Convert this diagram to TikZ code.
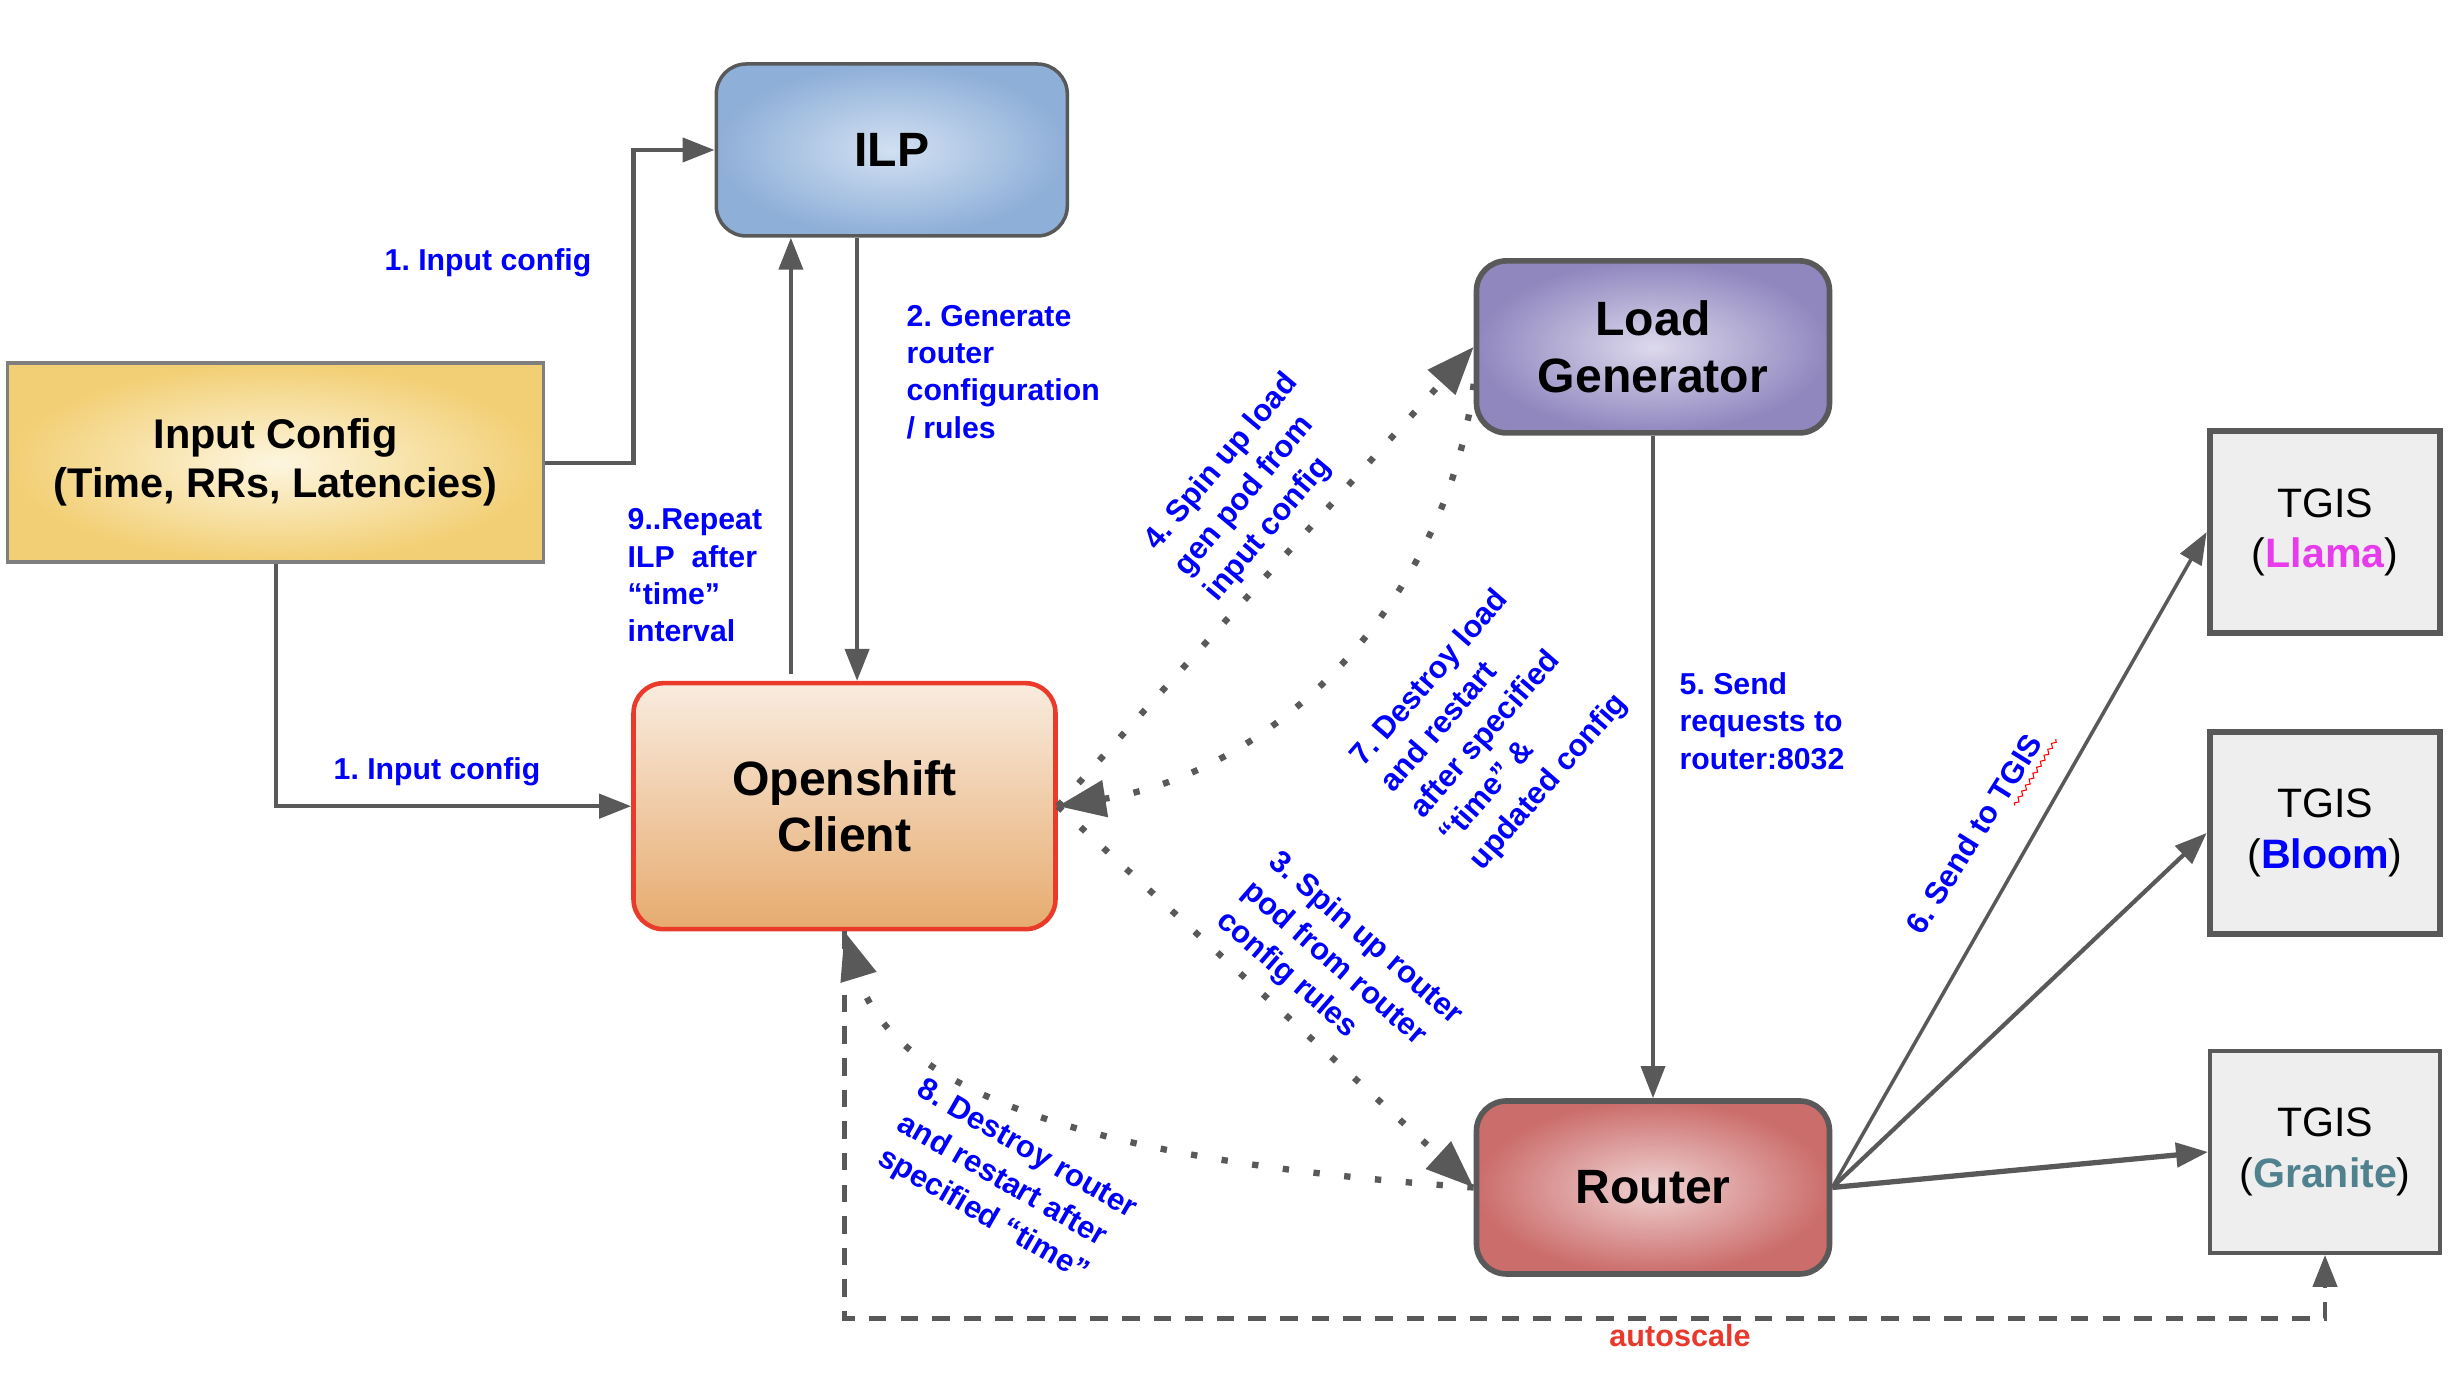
\documentclass[tikz,border=0pt]{standalone}
\usepackage{fontspec}
\setmainfont{Liberation Sans}
\usetikzlibrary{arrows.meta,calc,decorations.pathmorphing}
\frenchspacing
\definecolor{lineg}{HTML}{595959}
\definecolor{boxgray}{HTML}{7F7F7F}
\definecolor{ilpin}{HTML}{D2E0F2}
\definecolor{ilpout}{HTML}{8EAFD8}
\definecolor{cfgin}{HTML}{FDF6E0}
\definecolor{cfgout}{HTML}{F2CF74}
\definecolor{osctop}{HTML}{F9ECDF}
\definecolor{oscbot}{HTML}{E6AB6E}
\definecolor{oscred}{HTML}{EA3B2A}
\definecolor{loadin}{HTML}{DDD9EC}
\definecolor{loadout}{HTML}{9087BF}
\definecolor{rtrin}{HTML}{EFD2D2}
\definecolor{rtrout}{HTML}{CB6D6B}
\definecolor{tgisfill}{HTML}{EEEEEE}
\definecolor{llamapink}{HTML}{E63CEB}
\definecolor{granteal}{HTML}{4F818E}
\definecolor{autored}{HTML}{E8392C}
\tikzset{
    box/.style={draw=lineg, line width=1pt, rounded corners=0.3cm, align=center, inner sep=0pt,
        font=\fontsize{13.7}{16.1}\selectfont\bfseries},
    tgis/.style={draw=lineg, fill=tgisfill, minimum width=2.3cm, minimum height=2.02cm, align=center,
        inner sep=0pt, font=\fontsize{11.7}{14.3}\selectfont},
    link/.style={draw=lineg, line width=1.2pt, -{Triangle[length=0.32cm,width=0.24cm]}},
    dots/.style={draw=lineg, line width=1.8pt, dash pattern=on 1.8pt off 7pt,
        -{Triangle[length=0.48cm,width=0.36cm]}},
    note/.style={text=blue, align=left, inner sep=0pt, font=\fontsize{8.6}{10.6}\selectfont\bfseries},
    tilt/.style={text=blue, align=left, inner sep=0pt, font=\fontsize{8.8}{11.2}\selectfont\bfseries},
    squiggle/.style={draw=red, line width=0.3pt, decorate, decoration={zigzag, amplitude=0.5pt, segment length=2pt}}
}
\begin{document}
\begin{tikzpicture}
    \useasboundingbox (0,0) rectangle (24.58,13.86);
    % boxes
    \node[box, rounded corners=0pt, draw=boxgray, minimum width=5.36cm, minimum height=1.99cm,
        inner color=cfgin, outer color=cfgout, font=\fontsize{11.8}{13.9}\selectfont\bfseries]
        (cfg) at (2.757,9.233) {Input Config\\(Time, RRs, Latencies)};
    \node[box, minimum width=3.51cm, minimum height=1.72cm, inner color=ilpin, outer color=ilpout]
        (ilp) at (8.918,12.360) {ILP};
    \node[box, draw=oscred, line width=1.3pt, minimum width=4.22cm, minimum height=2.46cm,
        top color=osctop, bottom color=oscbot] (osc) at (8.445,5.798) {Openshift\\Client};
    \node[box, line width=1.6pt, minimum width=3.53cm, minimum height=1.72cm,
        inner color=loadin, outer color=loadout] (load) at (16.53,10.391) {Load\\Generator};
    \node[box, line width=1.6pt, minimum width=3.53cm, minimum height=1.73cm,
        inner color=rtrin, outer color=rtrout] (router) at (16.53,1.985) {Router};
    \foreach \name/\ypos/\model/\mcol/\bw in {llama/8.539/Llama/llamapink/1.9pt,
            bloom/5.530/Bloom/blue/1.9pt, granite/2.340/Granite/granteal/1.1pt}{
        \node[tgis, line width=\bw] (\name) at (23.25,\ypos) {TGIS\\(\textbf{\textcolor{\mcol}{\model}})};
    }
    % solid connectors
    \coordinate (upx) at (7.909,0);
    \coordinate (dnx) at (8.571,0);
    \draw[link] (cfg.east) -- ++(0.88,0) |- (ilp.west);
    \draw[link] (cfg.south) |- (osc.west);
    \draw[link] ([yshift=0.07cm]osc.north -| upx) -- (ilp.south -| upx);
    \draw[link] (ilp.south -| dnx) -- (osc.north -| dnx);
    \draw[link, line width=1pt] (load.south) -- (router.north);
    \foreach \t/\w in {llama/1pt, bloom/1.2pt, granite/1.5pt}
        \draw[link, line width=\w] (router.east) -- (\t.west);
    % autoscale
    \draw[link, line width=1.3pt, dash pattern=on 5pt off 4pt] (osc.south) -- (osc.south |- 0,0.677) -| (granite.south);
    \node[text=autored, inner sep=0pt, font=\fontsize{8.7}{10}\selectfont\bfseries] (auto) at (16.80,0.50) {autoscale};
    % dotted connectors
    \coordinate (lgout) at ([yshift=-0.37cm]load.west);
    \draw[dots] (osc.east) -- (load.west);
    \draw[dots] (osc.east) -- (router.west);
    \draw[dots] (lgout) .. controls +(-97:2.2) and +(9:2.2) .. (osc.east);
    \draw[dots] (router.west) .. controls +(176:3.15) and +(-73:1.89) .. (osc.south);
    % labels
    \node[note] (n1a) at (4.880,11.234) {1. Input config};
    \node[note] (n1b) at (4.370,6.145) {1. Input config};
    \node[note, anchor=west] (n9) at (6.27,8.106) {9..Repeat\\ILP\ \ after\\“time”\\interval};
    \node[note, anchor=west] (n2) at (9.06,10.139) {2. Generate\\router\\configuration\\/ rules};
    \node[note, anchor=west] (n5) at (16.79,6.649) {5. Send\\requests to\\router:8032};
    \node[tilt, rotate=50] (n4) at (12.52,8.981) {4. Spin up load\\gen pod from\\input config};
    \node[tilt, rotate=49] (n7) at (14.90,6.554) {7. Destroy load\\and restart\\after specified\\“time” \&\\updated config};
    \node[tilt, rotate=-41] (n3) at (13.393,4.175) {3. Spin up router\\pod from router\\config rules};
    \node[tilt, rotate=-30] (n8) at (10.068,2.016) {8. Destroy router\\and restart after\\specified “time”};
    \node[tilt, rotate=58, text depth=2.2pt] (n6) at (19.77,5.499) {6. Send to TGIS};
    \draw[squiggle] ($(n6.south west)!0.70!(n6.south east)$) -- ($(n6.south west)!1.04!(n6.south east)$);
\end{tikzpicture}
\end{document}
